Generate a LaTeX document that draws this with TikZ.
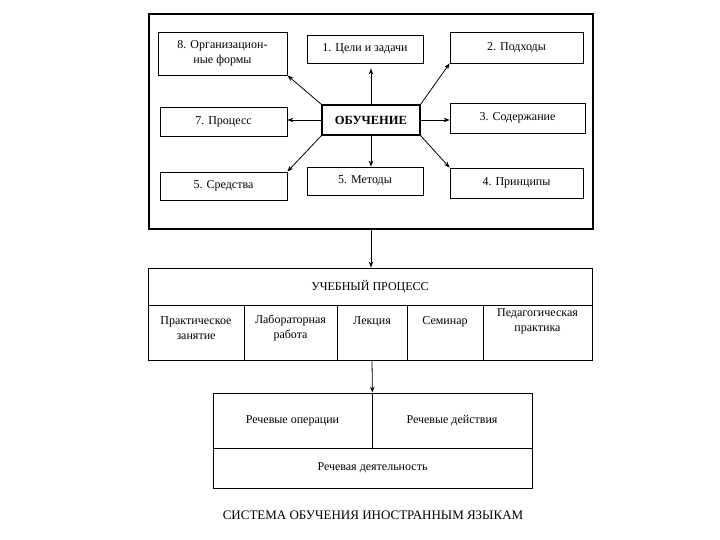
\documentclass[tikz,border=0pt]{standalone}
\usepackage{fontspec}
\setmainfont{Liberation Serif}
\usetikzlibrary{arrows.meta}
\begin{document}
\begin{tikzpicture}[x=1pt,y=-1pt,
  box/.style={draw,line width=0.8pt,inner sep=1pt,align=center,font=\fontsize{12}{15}\selectfont},
  cell/.style={draw,line width=0.8pt,inner sep=0pt},
  txt/.style={inner sep=0pt,align=center,font=\fontsize{12}{15}\selectfont},
  arr/.style={-{Stealth[length=6pt,width=4.5pt]},line width=0.8pt}]
\useasboundingbox[fill=white] (0,0) rectangle (720,540);
% top frame
\node[draw,line width=1.2pt,minimum width=444pt,minimum height=215pt] (outer) at (371,121.5) {};
\node[box,minimum width=129pt,minimum height=43pt] (org) at (222.5,53.5) {8. Организацион-\\ные формы};
\node[box,minimum width=116pt,minimum height=28pt] (cel) at (365,49) {1. Цели и задачи};
\node[box,minimum width=133pt,minimum height=31pt] (podh) at (516.5,47.5) {2. Подходы};
\node[box,line width=1.2pt,minimum width=98pt,minimum height=30pt,font=\bfseries\fontsize{12.5}{15}\selectfont] (ob) at (371,120) {ОБУЧЕНИЕ};
\node[box,minimum width=127pt,minimum height=29pt] (proc) at (223.5,121.5) {7. Процесс};
\node[box,minimum width=135pt,minimum height=30pt] (sod) at (517.5,118) {3. Содержание};
\node[box,minimum width=127pt,minimum height=28pt] (sred) at (223.5,186) {5. Средства};
\node[box,minimum width=116pt,minimum height=28pt] (met) at (365,181) {5. Методы};
\node[box,minimum width=133pt,minimum height=30pt] (princ) at (516.5,183) {4. Принципы};
\draw[arr] (ob.north west) -- (org.south east);
\draw[arr] (ob.north) -- ([yshift=-5pt]ob.north |- cel.south);
\draw[arr] (ob.north east) -- (podh.south west);
\draw[arr] (ob.west) -- (ob.west -| proc.east);
\draw[arr] (ob.east) -- (ob.east -| sod.west);
\draw[arr] (ob.south west) -- (sred.north east);
\draw[arr] (ob.south) -- (ob.south |- met.north);
\draw[arr] (ob.south east) -- (princ.north west);
% learning process
\node[box,minimum width=444pt,minimum height=37pt] (hdr) at (370,286.5) {УЧЕБНЫЙ ПРОЦЕСС};
\node[cell,minimum width=96pt,minimum height=55pt] (c1) at (196,332.5) {};
\node[cell,minimum width=93pt,minimum height=55pt] (c2) at (290.5,332.5) {};
\node[cell,minimum width=70pt,minimum height=55pt] (c3) at (372,332.5) {};
\node[cell,minimum width=76pt,minimum height=55pt] (c4) at (445,332.5) {};
\node[cell,minimum width=109pt,minimum height=55pt] (c5) at (537.5,332.5) {};
\node[txt] (t1) at ([yshift=4pt]c1.center) {Практическое\\занятие};
\node[txt] (t2) at ([yshift=5pt]c2.center) {Лабораторная\\работа};
\node[txt] (t3) at ([yshift=11pt]c3.center) {Лекция};
\node[txt] (t4) at ([yshift=11pt]c4.center) {Семинар};
\node[txt] (t5) at ([yshift=11pt]c5.center) {Педагогическая\\практика};
\draw[arr] (outer.south) -- (outer.south |- hdr.north);
% speech
\node[box,minimum width=159pt,minimum height=55pt] (ops) at (292.5,420.5) {Речевые операции};
\node[box,minimum width=160pt,minimum height=55pt] (act) at (452,420.5) {Речевые действия};
\node[box,minimum width=319pt,minimum height=40pt] (dey) at (372.5,468) {Речевая деятельность};
\draw[arr] (c3.south) -- (ops.north east);
\node[txt,font=\fontsize{13}{15}\selectfont] (title) at (373,515) {СИСТЕМА ОБУЧЕНИЯ ИНОСТРАННЫМ ЯЗЫКАМ};
\end{tikzpicture}
\end{document}
